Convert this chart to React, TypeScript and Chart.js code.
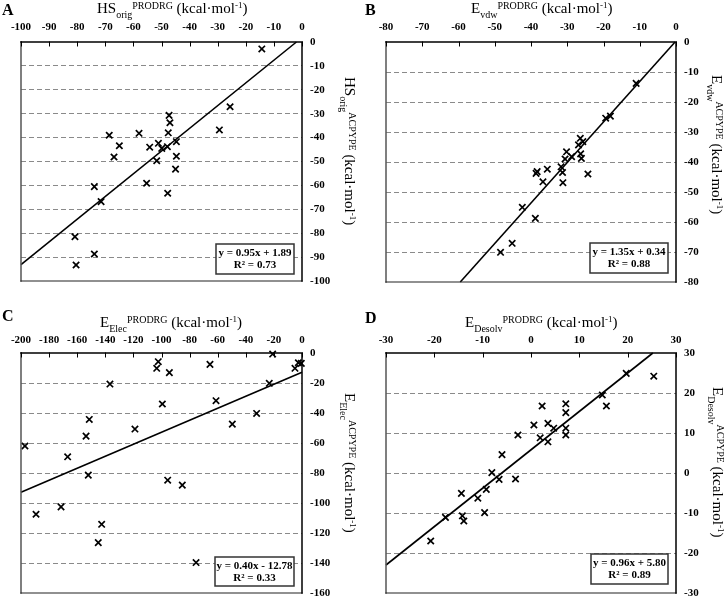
import React, { useEffect, useRef } from 'react';
import { Chart, registerables } from 'chart.js';
Chart.register(...registerables);

const FONT = '"Liberation Serif", "Times New Roman", Times, serif';

// ---------- Panel A: HS_orig ----------
const hsProdrg = [-14.3, -25.6, -29.4, -47.3, -47.0, -68.6, -58.0, -47.6, -65.0, -54.2, -51.1, -49.9, -47.9, -44.7, -66.9, -51.7, -44.7, -45.0, -73.9, -55.3, -71.5, -47.8, -80.8, -73.9, -80.4];
const hsAcpype = [-2.9, -27.1, -36.8, -30.7, -33.8, -39.0, -38.2, -38.0, -43.4, -44.0, -42.4, -44.5, -43.8, -41.7, -48.1, -49.7, -47.8, -53.2, -60.5, -59.1, -66.8, -63.3, -81.5, -88.7, -93.3];

// ---------- Panel B: E_vdw ----------
const vdwProdrg = [-11.0, -19.4, -18.1, -26.4, -25.7, -26.9, -30.2, -26.3, -28.8, -30.6, -26.1, -31.7, -31.3, -31.2, -38.3, -35.5, -36.7, -24.3, -42.4, -38.8, -45.2, -48.4, -38.6];
const vdwAcpype = [-13.8, -25.4, -24.7, -32.1, -33.2, -34.3, -36.6, -37.3, -38.2, -39.0, -38.8, -41.6, -43.5, -46.9, -43.2, -42.4, -46.6, -44.0, -55.1, -58.8, -67.1, -70.1, -43.8];

// ---------- Panel C: E_Elec ----------
const elecProdrg = [-20.9, -102.3, -103.4, -94.4, -65.5, -2.6, -5.0, -0.5, -136.7, -23.3, -99.4, -61.2, -32.3, -151.4, -49.6, -118.9, -153.7, -197.2, -166.8, -152.1, -95.6, -85.2, -189.3, -171.5, -142.6, -145.0, -75.4];
const elecAcpype = [-0.7, -5.8, -10.2, -13.1, -7.6, -6.5, -10.2, -6.9, -20.7, -20.2, -34.0, -31.8, -40.3, -44.3, -47.4, -50.7, -55.4, -62.0, -69.2, -81.4, -84.8, -88.1, -107.5, -102.6, -114.2, -126.4, -139.7];

// ---------- Panel D: E_Desolv ----------
const desolvProdrg = [19.7, 25.4, 14.75, 15.6, 2.3, 7.2, 7.2, 0.6, 3.5, 4.7, 7.2, 7.2, -2.7, 1.9, 3.5, -6.0, -8.1, -6.6, -3.2, -14.4, -9.25, -11.0, -17.7, -14.2, -13.9, -9.6, -20.75];
const desolvAcpype = [24.9, 24.2, 19.5, 16.75, 16.75, 17.3, 15.1, 12.0, 12.4, 11.2, 11.2, 9.5, 9.5, 8.8, 7.8, 4.6, 0.1, -1.6, -1.5, -5.1, -4.1, -6.3, -11.1, -10.7, -12.0, -9.9, -17.0];

// regression fits (slope, intercept) and labels
const slopes = [0.95, 1.35, 0.40, 0.96];
const intercepts = [1.89, 0.34, -12.78, 5.80];
const eqLabels = ['y = 0.95x + 1.89', 'y = 1.35x + 0.34', 'y = 0.40x - 12.78', 'y = 0.96x + 5.80'];
const r2Labels = ['R\u00B2 = 0.73', 'R\u00B2 = 0.88', 'R\u00B2 = 0.33', 'R\u00B2 = 0.89'];

// axis ranges
const xRanges = [[-100, 0, 10], [-80, 0, 10], [-200, 0, 20], [-30, 30, 10]];
const yRanges = [[-100, 0, 10], [-80, 0, 10], [-160, 0, 20], [-30, 30, 10]];

const panelLetters = ['A', 'B', 'C', 'D'];
const quantityMain = ['HS', 'E', 'E', 'E'];
const quantitySub = ['orig', 'vdw', 'Elec', 'Desolv'];
const xSup = 'PRODRG';
const ySup = 'ACPYPE';
const unitMain = ' (kcal\u00B7mol';
const unitSup = '-1';
const unitEnd = ')';

type Seg = { t: string; size: number; dy: number; bold?: boolean };

function titleSegs(i: number, sup: string): Seg[] {
  return [
    { t: quantityMain[i], size: 15, dy: 0 },
    { t: quantitySub[i], size: 10, dy: 5 },
    { t: sup, size: 10, dy: -4 },
    { t: unitMain, size: 15, dy: 0 },
    { t: unitSup, size: 9, dy: -5 },
    { t: unitEnd, size: 15, dy: 0 },
  ];
}

function drawRich(ctx: CanvasRenderingContext2D, segs: Seg[], x: number, y: number) {
  let cx = x;
  ctx.textAlign = 'left';
  ctx.textBaseline = 'alphabetic';
  for (const s of segs) {
    ctx.font = `${s.bold ? 'bold ' : ''}${s.size}px ${FONT}`;
    ctx.fillText(s.t, cx, y + s.dy);
    cx += ctx.measureText(s.t).width;
  }
}

function fitLine(m: number, c: number, xmin: number, xmax: number, ymin: number, ymax: number) {
  const xa = (ymin - c) / m;
  const xb = (ymax - c) / m;
  const lo = Math.max(xmin, Math.min(xa, xb));
  const hi = Math.min(xmax, Math.max(xa, xb));
  return [{ x: lo, y: m * lo + c }, { x: hi, y: m * hi + c }];
}

type Layout = {
  left: number; top: number; w: number; h: number;
  area: { l: number; r: number; t: number; b: number };
  letter: [number, number];
  xTitle: [number, number];
  yTitle: [number, number];
  box: [number, number, number, number];
  xPad: number;
};

const layouts: Layout[] = [
  { left: 0, top: 0, w: 363, h: 310, area: { l: 21, r: 302, t: 42, b: 281 }, letter: [2, 15], xTitle: [97, 13], yTitle: [345, 77], box: [216, 244, 78, 30], xPad: 8 },
  { left: 363, top: 0, w: 363, h: 310, area: { l: 23, r: 313, t: 42, b: 282 }, letter: [2, 15], xTitle: [108, 13], yTitle: [349, 75], box: [227, 243, 78, 30], xPad: 8 },
  { left: 0, top: 300, w: 363, h: 310, area: { l: 21, r: 302, t: 53, b: 293 }, letter: [2, 21], xTitle: [100, 27], yTitle: [345, 93], box: [215, 257, 79, 29], xPad: 6 },
  { left: 363, top: 300, w: 363, h: 310, area: { l: 23, r: 313, t: 53, b: 293 }, letter: [2, 23], xTitle: [102, 27], yTitle: [350, 87], box: [228, 254, 77, 30], xPad: 6 },
];

const xsAll = [hsProdrg, vdwProdrg, elecProdrg, desolvProdrg];
const ysAll = [hsAcpype, vdwAcpype, elecAcpype, desolvAcpype];

function Panel({ idx }: { idx: number }) {
  const ref = useRef<HTMLCanvasElement>(null);
  const L = layouts[idx];
  useEffect(() => {
    const [xmin, xmax, xstep] = xRanges[idx];
    const [ymin, ymax, ystep] = yRanges[idx];
    const pts = xsAll[idx].map((x, i) => ({ x, y: ysAll[idx][i] }));
    const line = fitLine(slopes[idx], intercepts[idx], xmin, xmax, ymin, ymax);
    const tickFont = { family: FONT, size: 11, weight: 'bold' as const };

    const deco = {
      id: 'deco' + idx,
      afterDraw(chart: any) {
        const ctx: CanvasRenderingContext2D = chart.ctx;
        const a = chart.chartArea;
        const xs = chart.scales.x;
        ctx.save();
        // frame
        ctx.lineCap = 'square';
        ctx.strokeStyle = '#555';
        ctx.lineWidth = 1.5;
        ctx.beginPath();
        ctx.moveTo(a.left, a.top);
        ctx.lineTo(a.left, a.bottom);
        ctx.stroke();
        ctx.strokeStyle = '#222';
        ctx.lineWidth = 1.2;
        ctx.beginPath();
        ctx.moveTo(a.left, a.bottom);
        ctx.lineTo(a.right, a.bottom);
        ctx.stroke();
        ctx.strokeStyle = '#000';
        ctx.lineWidth = 1.5;
        ctx.beginPath();
        ctx.moveTo(a.left, a.top);
        ctx.lineTo(a.right, a.top);
        ctx.lineTo(a.right, a.bottom);
        ctx.stroke();
        // inside tick marks on top axis
        ctx.lineWidth = 1;
        ctx.beginPath();
        for (const t of xs.ticks) {
          const px = Math.round(xs.getPixelForValue(t.value)) + 0.5;
          ctx.moveTo(px, a.top);
          ctx.lineTo(px, a.top + 4);
        }
        ctx.stroke();
        // legend box
        const [bx, by, bw, bh] = L.box;
        ctx.fillStyle = '#fff';
        ctx.fillRect(bx, by, bw, bh);
        ctx.strokeStyle = '#333';
        ctx.lineWidth = 1.5;
        ctx.strokeRect(bx, by, bw, bh);
        ctx.fillStyle = '#000';
        ctx.font = `bold 11px ${FONT}`;
        ctx.textAlign = 'center';
        ctx.textBaseline = 'middle';
        ctx.fillText(eqLabels[idx], bx + bw / 2, by + 9);
        ctx.fillText(r2Labels[idx], bx + bw / 2, by + 21.5);
        // panel letter
        ctx.textAlign = 'left';
        ctx.textBaseline = 'alphabetic';
        ctx.font = `bold 16px ${FONT}`;
        ctx.fillText(panelLetters[idx], L.letter[0], L.letter[1]);
        // x title
        drawRich(ctx, titleSegs(idx, xSup), L.xTitle[0], L.xTitle[1]);
        // y title (rotated)
        ctx.translate(L.yTitle[0], L.yTitle[1]);
        ctx.rotate(Math.PI / 2);
        drawRich(ctx, titleSegs(idx, ySup), 0, 0);
        ctx.restore();
      },
    };

    const chart = new Chart(ref.current as HTMLCanvasElement, {
      type: 'scatter',
      data: {
        datasets: [
          {
            data: pts,
            pointStyle: 'crossRot',
            pointRadius: 4.5,
            pointBorderWidth: 1.7,
            pointBorderColor: '#000',
            pointBackgroundColor: '#000',
            borderColor: '#000',
            showLine: false,
          } as any,
          {
            data: line,
            showLine: true,
            pointRadius: 0,
            borderColor: '#000',
            borderWidth: 1.6,
            fill: false,
          } as any,
        ],
      },
      options: {
        responsive: false,
        animation: false,
        events: [],
        clip: false as any,
        plugins: { legend: { display: false }, tooltip: { enabled: false } },
        layout: { padding: { left: L.area.l, top: 0, right: 0, bottom: L.h - L.area.b } },
        scales: {
          x: {
            type: 'linear',
            position: 'top',
            min: xmin,
            max: xmax,
            ticks: { stepSize: xstep, color: '#000', font: tickFont, padding: L.xPad, maxRotation: 0, autoSkip: false },
            grid: { display: false, drawTicks: false },
            border: { display: false },
            afterFit: (s: any) => { s.height = L.area.t; },
          },
          y: {
            type: 'linear',
            position: 'right',
            min: ymin,
            max: ymax,
            ticks: { stepSize: ystep, color: '#000', font: tickFont, padding: 8, autoSkip: false },
            grid: {
              drawTicks: false,
              lineWidth: 1,
              color: (c: any) => (c.tick && (c.tick.value === ymin || c.tick.value === ymax) ? 'rgba(0,0,0,0)' : '#8a8a8a'),
            },
            border: { display: false, dash: [5, 3] },
            afterFit: (s: any) => { s.width = L.w - L.area.r; },
          },
        },
      } as any,
      plugins: [deco],
    });
    return () => chart.destroy();
  }, []);
  return (
    <canvas
      ref={ref}
      width={L.w}
      height={L.h}
      style={{ position: 'absolute', left: L.left, top: L.top, width: L.w, height: L.h }}
    />
  );
}

export default function App() {
  return (
    <div style={{ position: 'fixed', left: 0, top: 0, width: 726, height: 597, overflow: 'hidden', background: '#fff' }}>
      {[0, 1, 2, 3].map((i) => (
        <Panel key={i} idx={i} />
      ))}
    </div>
  );
}
